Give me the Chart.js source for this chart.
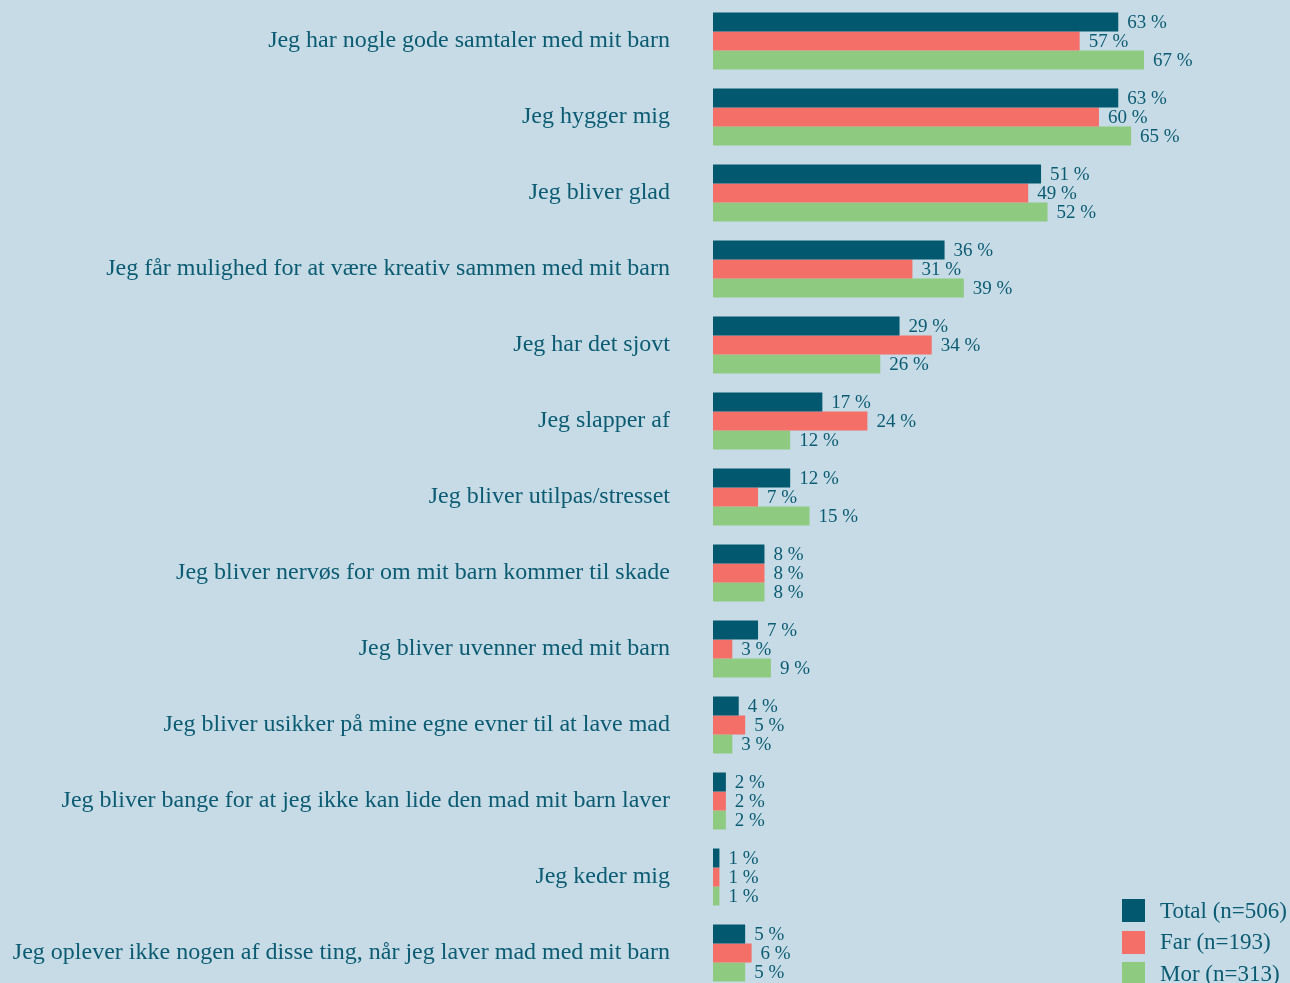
<!DOCTYPE html>
<html>
<head>
<meta charset="utf-8">
<script src="https://cdn.jsdelivr.net/npm/chart.js@4.4.1/dist/chart.umd.min.js"></script>
<style>
    html, body { margin: 0; padding: 0; background: #c6dbe5; overflow: hidden; }
    #wrap { position: relative; width: 1290px; height: 991px; }
    #legend {
        position: absolute; left: 1122px; top: 895px;
        font-family: 'Liberation Serif', serif; font-size: 23px; color: #0b5b73;
    }
    .item { display: flex; align-items: center; height: 31.5px; }
    .box { width: 23px; height: 23px; margin-right: 15px; }
</style>
</head>
<body>
<div id="wrap">
    <canvas id="chart" width="1290" height="991"></canvas>
    <div id="legend"></div>
</div>
<script>
    // Categories and values (percent)
    const categories = [
        'Jeg har nogle gode samtaler med mit barn',
        'Jeg hygger mig',
        'Jeg bliver glad',
        'Jeg får mulighed for at være kreativ sammen med mit barn',
        'Jeg har det sjovt',
        'Jeg slapper af',
        'Jeg bliver utilpas/stresset',
        'Jeg bliver nervøs for om mit barn kommer til skade',
        'Jeg bliver uvenner med mit barn',
        'Jeg bliver usikker på mine egne evner til at lave mad',
        'Jeg bliver bange for at jeg ikke kan lide den mad mit barn laver',
        'Jeg keder mig',
        'Jeg oplever ikke nogen af disse ting, når jeg laver mad med mit barn'
    ];
    const totalValues = [63, 63, 51, 36, 29, 17, 12, 8, 7, 4, 2, 1, 5];
    const farValues = [57, 60, 49, 31, 34, 24, 7, 8, 3, 5, 2, 1, 6];
    const morValues = [67, 65, 52, 39, 26, 12, 15, 8, 9, 3, 2, 1, 5];
    const seriesNames = ['Total (n=506)', 'Far (n=193)', 'Mor (n=313)'];

    const colors = ['#02586f', '#f36f68', '#8ecb80'];
    const textColor = '#0b5b73';
    const serif = "'Liberation Serif', serif";

    // Draw value labels right of each bar
    const valueLabels = {
        id: 'valueLabels',
        afterDatasetsDraw(chart) {
            const ctx = chart.ctx;
            ctx.save();
            ctx.font = '19px ' + serif;
            ctx.fillStyle = textColor;
            ctx.textBaseline = 'middle';
            ctx.textAlign = 'left';
            chart.data.datasets.forEach((ds, i) => {
                chart.getDatasetMeta(i).data.forEach((bar, j) => {
                    ctx.fillText(ds.data[j] + ' %', bar.x + 9, bar.y + 1);
                });
            });
            ctx.restore();
        }
    };

    const values = [totalValues, farValues, morValues];
    chart = new Chart(document.getElementById('chart').getContext('2d'), {
        type: 'bar',
        data: {
            labels: categories,
            datasets: values.map((v, i) => ({
                label: seriesNames[i],
                data: v,
                backgroundColor: colors[i],
                borderWidth: 0,
                barPercentage: 1,
                categoryPercentage: 0.75
            }))
        },
        options: {
            indexAxis: 'y',
            responsive: false,
            animation: false,
            layout: { padding: { top: 3, bottom: 0, right: 0 } },
            plugins: { legend: { display: false }, tooltip: { enabled: false } },
            scales: {
                x: { display: false, min: 0, max: 89.7 },
                y: {
                    afterFit(scale) {
                        scale.width = 713;
                        scale.paddingTop = 0;
                        scale.paddingBottom = 0;
                    },
                    grid: { display: false, drawTicks: false },
                    border: { display: false },
                    ticks: {
                        padding: 43,
                        color: textColor,
                        font: { family: serif, size: 24 }
                    }
                }
            }
        },
        plugins: [valueLabels]
    });

    // HTML legend
    document.getElementById('legend').innerHTML = seriesNames.map((name, i) =>
        `<div class="item"><div class="box" style="background:${colors[i]}"></div>${name}</div>`
    ).join('');
</script>
</body>
</html>
